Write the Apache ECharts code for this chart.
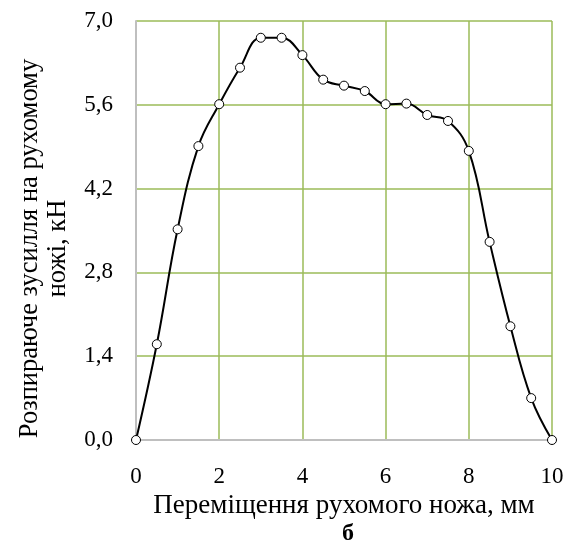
<!DOCTYPE html>
<html>
<head>
<meta charset="utf-8">
<script src="https://cdn.jsdelivr.net/npm/echarts@6/dist/echarts.min.js"></script>
<style>
html,body{margin:0;padding:0;background:#fff;}
#chart{width:570px;height:545px;}
</style>
</head>
<body>
<div id="chart"></div>
<script>
var xValues = [0, 0.5, 1, 1.5, 2, 2.5, 3, 3.5, 4, 4.5, 5, 5.5, 6, 6.5, 7, 7.5, 8, 8.5, 9, 9.5, 10];
var forceValues = [0, 1.60, 3.52, 4.91, 5.61, 6.22, 6.72, 6.72, 6.43, 6.02, 5.92, 5.83, 5.61, 5.62, 5.43, 5.33, 4.83, 3.31, 1.90, 0.70, 0];
var yTickValues = [0, 1.4, 2.8, 4.2, 5.6, 7.0];
var yTickLabels = ['0,0', '1,4', '2,8', '4,2', '5,6', '7,0'];
var xTickLabels = ['0', '2', '4', '6', '8', '10'];
var xAxisTitle = 'Переміщення рухомого ножа, мм';
var yAxisTitle = 'Розпираюче зусилля на рухомому\nножі, кН';
var subLabel = 'б';

var font = '"Liberation Serif", "Times New Roman", serif';
var data = xValues.map(function (x, i) { return [x, forceValues[i]]; });

var chart = echarts.init(document.getElementById('chart'), null, {renderer: 'canvas'});
chart.setOption({
  backgroundColor: '#ffffff',
  animation: false,
  grid: {left: 136, right: 18, top: 21, bottom: 105, containLabel: false},
  title: {
    text: subLabel,
    left: 343, top: 517, textAlign: 'center',
    textStyle: {fontFamily: font, fontSize: 24, fontWeight: 'bold', color: '#000'}
  },
  xAxis: {
    type: 'value', min: 0, max: 10, interval: 2,
    name: xAxisTitle, nameLocation: 'middle', nameGap: 49,
    nameTextStyle: {fontFamily: font, fontSize: 27, color: '#000'},
    axisLine: {show: true, onZero: false, lineStyle: {color: '#bfbfbf', width: 2}},
    axisTick: {show: false},
    axisLabel: {
      margin: 25, fontFamily: font, fontSize: 23, color: '#000',
      formatter: function (v) { var i = Math.round(v / 2); return xTickLabels[i] !== undefined ? xTickLabels[i] : ''; }
    },
    splitLine: {show: true, lineStyle: {color: '#9bbb59', width: 1.5}}
  },
  yAxis: {
    type: 'value', min: 0, max: 7, interval: 1.4,
    name: yAxisTitle, nameLocation: 'middle', nameGap: 64,
    nameTextStyle: {fontFamily: font, fontSize: 26.5, color: '#000', lineHeight: 28, padding: [0, 36, 0, 0]},
    axisLine: {show: true, onZero: false, lineStyle: {color: '#bfbfbf', width: 2}},
    axisTick: {show: false},
    axisLabel: {
      margin: 23, fontFamily: font, fontSize: 23, color: '#000',
      formatter: function (v) {
        for (var i = 0; i < yTickValues.length; i++) {
          if (Math.abs(yTickValues[i] - v) < 1e-6) return yTickLabels[i];
        }
        return '';
      }
    },
    splitLine: {show: true, lineStyle: {color: '#9bbb59', width: 1.5}}
  },
  series: [{
    type: 'line',
    data: data,
    smooth: 0.4,
    symbol: 'circle',
    symbolSize: 9,
    showAllSymbol: true,
    clip: false,
    lineStyle: {color: '#000', width: 2},
    itemStyle: {color: '#fff', borderColor: '#000', borderWidth: 1}
  }]
});
</script>
</body>
</html>
